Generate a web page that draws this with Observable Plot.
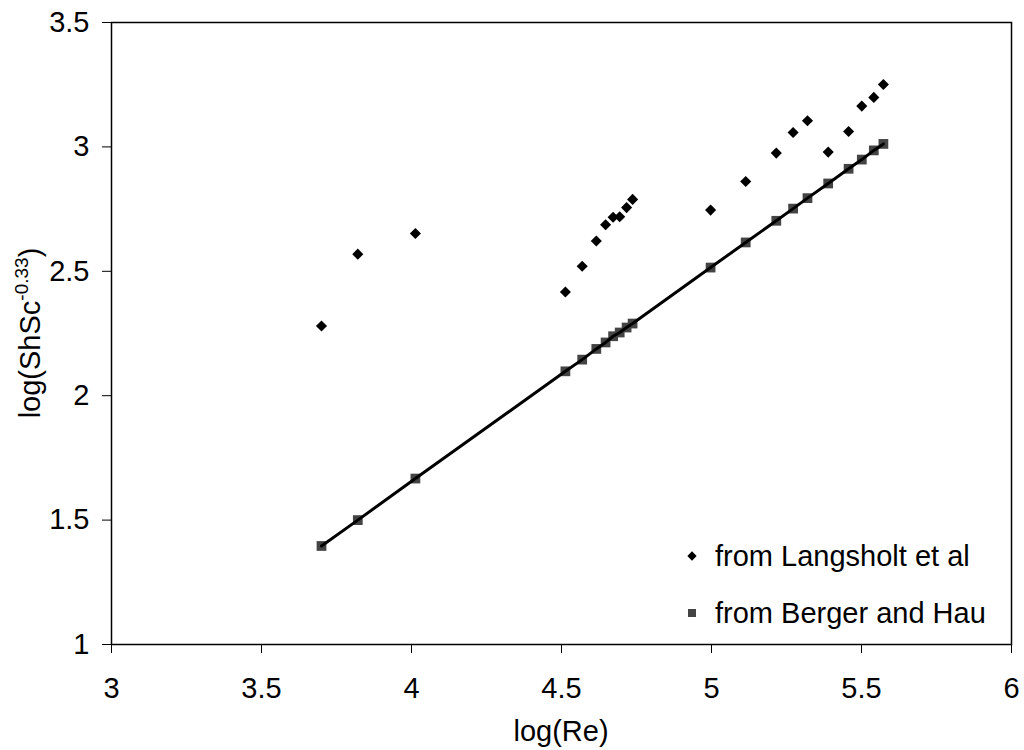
<!DOCTYPE html>
<html><head><meta charset="utf-8">
<script src="https://cdn.jsdelivr.net/npm/d3@7"></script>
<script src="https://cdn.jsdelivr.net/npm/@observablehq/plot@0.6"></script>
<style>
body{margin:0;background:#fff}
#chart svg{display:block}
</style>
</head><body><div id="chart"></div>
<script>
// log(Re) values (shared by both series)
const logRe = [3.700,3.821,4.013,4.513,4.569,4.616,4.647,4.672,4.694,4.717,4.737,4.997,5.114,5.216,5.272,5.320,5.389,5.457,5.501,5.541,5.573];
// log(ShSc^-0.33) from Langsholt et al
const langsholt = [2.280,2.569,2.652,2.417,2.520,2.622,2.687,2.717,2.719,2.756,2.789,2.746,2.861,2.975,3.058,3.105,2.979,3.062,3.164,3.199,3.251];
// log(ShSc^-0.33) from Berger and Hau
const bergerHau = [1.396,1.500,1.667,2.098,2.145,2.188,2.214,2.239,2.254,2.274,2.290,2.515,2.616,2.703,2.752,2.794,2.853,2.912,2.949,2.986,3.012];
const xTicks = [3,3.5,4,4.5,5,5.5,6];
const yTicks = [1,1.5,2,2.5,3,3.5];
const seriesNames = ["from Langsholt et al","from Berger and Hau"];
const xTitle = "log(Re)";
const yTitleMain = "log(ShSc";
const yTitleSup = "-0.33";

const dataL = logRe.map((x,i)=>({x, y: langsholt[i]}));
const dataB = logRe.map((x,i)=>({x, y: bergerHau[i]}));

const FONT = "'Liberation Sans', Arial, Helvetica, sans-serif";
const W = 1024, H = 750;

const chart = Plot.plot({
  width: W, height: H,
  marginLeft: 111, marginRight: 13, marginTop: 22, marginBottom: 106,
  style: {fontFamily: FONT, fontSize: "29px", color: "black", background: "white", overflow: "visible"},
  x: {domain: [3,6], ticks: xTicks, tickSize: 9, tickPadding: 24, tickFormat: d => String(d), label: null},
  y: {domain: [1,3.5], ticks: yTicks, tickSize: 9, tickPadding: 13, tickFormat: d => String(d), label: null},
  marks: [
    Plot.frame({stroke: "black", strokeWidth: 1.5}),
    Plot.dot(dataB, {x: "x", y: "y", symbol: "square", r: 5.5, fill: "#444444", stroke: "none"}),
    Plot.line(dataB, {x: "x", y: "y", stroke: "black", strokeWidth: 3}),
    Plot.dot(dataL, {x: "x", y: "y", symbol: "diamond2", r: 5, fill: "black", stroke: "none"})
  ]
});
document.getElementById("chart").appendChild(chart);

const svg = d3.select(chart);
// axis titles
svg.append("text")
  .attr("x", 561).attr("y", 741)
  .attr("text-anchor", "middle")
  .attr("font-family", FONT).attr("font-size", 29).attr("fill", "black")
  .text(xTitle);

const yt = svg.append("text")
  .attr("transform", "translate(40,333) rotate(-90)")
  .attr("text-anchor", "middle")
  .attr("font-family", FONT).attr("font-size", 29).attr("fill", "black");
yt.append("tspan").text(yTitleMain);
yt.append("tspan").attr("dy", -12).attr("font-size", 19).text(yTitleSup);
yt.append("tspan").attr("dy", 12).text(")");

// legend (inside plot area, bottom right)
const lg = svg.append("g").attr("font-family", FONT).attr("font-size", 29).attr("fill", "black").attr("text-anchor", "start");
lg.append("path").attr("d", d3.symbol(d3.symbolDiamond2, 55)()).attr("transform", "translate(692,556)").attr("fill", "black");
lg.append("text").attr("x", 715).attr("y", 566).attr("text-anchor", "start").text(seriesNames[0]);
lg.append("path").attr("d", d3.symbol(d3.symbolSquare, 64)()).attr("transform", "translate(692,613)").attr("fill", "#444444");
lg.append("text").attr("x", 715).attr("y", 623).attr("text-anchor", "start").text(seriesNames[1]);
</script>
</body></html>
